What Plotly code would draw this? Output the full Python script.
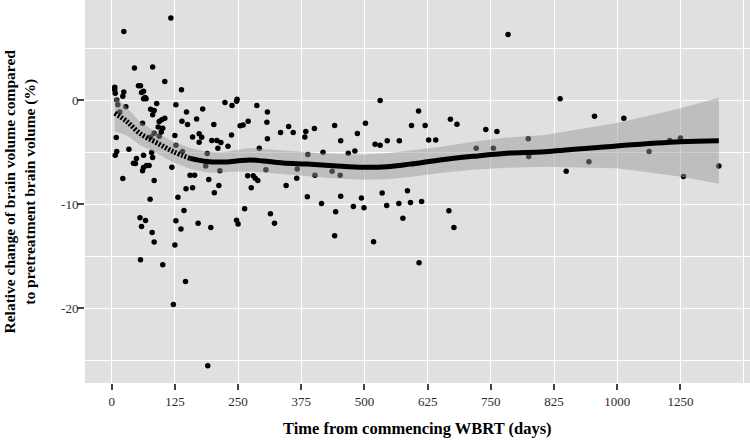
import plotly.graph_objects as go

# ---- data ----
days = [117, 24, 45, 81, 105, 138, 6, 6, 7, 24, 22, 53, 57, 63, 59, 66, 63, 68, 10, 89,
        127, 28, 77, 84, 81, 148, 139, 150, 168, 105, 99, 94, 61, 92, 101, 98, 94, 125, 84, 77,
        160, 173, 173, 178, 127, 9, 34, 10, 7, 49, 63, 79, 81, 43, 47, 69, 74, 63, 61, 119,
        22, 84, 155, 164, 147, 160, 76, 131, 143, 56, 67, 59, 127, 171, 137, 80, 84, 125, 57, 101,
        146, 122, 190, 12, 16, 140,
        224, 248, 247, 238, 180, 202, 287, 308, 270, 254, 260, 307, 237, 308, 334, 350, 359, 384, 382, 198,
        208, 216, 210, 230, 189, 186, 214, 292, 305, 367, 388, 192, 212, 203, 269, 280, 284, 289, 276, 345,
        366, 387, 263, 247, 250, 314, 322, 196,
        401, 418, 441, 453, 468, 481, 486, 502, 531, 521, 531, 545, 569, 593, 607, 620, 627, 641, 670, 683,
        740, 762, 721, 755, 824, 825, 436, 402, 452, 415, 453, 443, 441, 478, 494, 499, 535, 544, 518, 585,
        568, 591, 613, 576, 608, 667, 677, 784, 887, 955, 1013, 1125, 1104, 1063, 944, 899, 1131, 1201]
change = [7.9, 6.6, 3.1, 3.2, 1.8, 1.0, 1.25, 1.0, 0.67, 0.8, 0.38, 1.38, 1.38, 0.87, 0.73, 0.25, 0.13, 0.15, 0.03, -0.33,
          -0.45, -0.62, -0.87, -1.0, -1.41, -1.13, -2.02, -2.35, -1.8, -1.73, -1.89, -2.06, -2.21, -2.57, -2.71, -3.05, -3.48, -3.4, -3.17, -3.53,
          -3.53, -3.24, -4.04, -3.56, -4.33, -3.6, -4.71, -4.94, -5.29, -5.62, -5.29, -5.04, -5.52, -6.06, -6.1, -6.29, -6.29, -6.48, -6.8, -6.44,
          -7.54, -7.73, -7.21, -7.21, -8.53, -8.43, -9.52, -9.33, -10.62, -11.32, -11.58, -12.15, -11.61, -11.83, -12.4, -12.73, -13.65, -13.94, -15.36, -15.84,
          -17.44, -19.65, -25.55, -0.45, -1.13, -4.94,
          -0.23, 0.1, -0.1, -0.52, -0.84, -2.33, -0.52, -1.13, -2.02, -2.47, -2.38, -2.12, -3.34, -3.72, -3.12, -2.54, -3.12, -3.02, -3.53, -3.88,
          -3.88, -4.08, -4.62, -4.42, -5.13, -6.32, -6.8, -4.62, -6.7, -6.61, -5.23, -7.62, -8.21, -8.91, -7.28, -7.28, -7.5, -7.73, -8.43, -8.21,
          -7.5, -9.3, -10.45, -11.54, -11.92, -10.93, -11.83, -12.25,
          -2.73, -5.0, -2.44, -3.91, -5.1, -4.9, -3.21, -2.21, -0.04, -4.23, -4.33, -3.91, -3.91, -2.44, -1.03, -2.44, -3.82, -3.82, -1.83, -2.31,
          -2.83, -3.02, -4.62, -4.62, -3.72, -5.42, -6.83, -7.21, -7.21, -9.94, -9.23, -10.74, -13.05, -10.23, -9.42, -10.36, -8.94, -10.13, -13.63, -8.72,
          -9.94, -9.85, -9.75, -11.35, -15.64, -10.64, -12.25, 6.31, 0.15, -1.54, -1.73, -3.63, -3.88, -4.94, -5.93, -6.83, -7.35, -6.32]

smooth_x = [6, 30, 56, 89, 122, 155, 188, 221, 247, 274, 300, 339, 386, 438, 498, 544, 590, 649, 715, 781, 857, 999, 1124, 1201]
smooth_y = [-1.25, -2.05, -3.2, -4.1, -4.95, -5.6, -5.9, -5.95, -5.85, -5.75, -5.85, -6.05, -6.15, -6.3, -6.45, -6.4, -6.15, -5.75, -5.4, -5.1, -4.95, -4.4, -4.0, -3.9]
ci_upper = [0.4, -0.7, -2.1, -3.1, -4.0, -4.6, -4.95, -5.0, -4.8, -4.6, -4.7, -4.85, -5.0, -5.15, -5.25, -5.1, -4.85, -4.5, -4.0, -3.6, -3.35, -2.2, -0.8, 0.25]
ci_lower = [-3.0, -3.4, -4.3, -5.1, -6.0, -6.6, -6.95, -6.95, -6.85, -6.85, -6.9, -7.1, -7.3, -7.5, -7.65, -7.6, -7.4, -7.0, -6.7, -6.5, -6.4, -6.55, -7.35, -8.05]
hatched_until = 155  # the early part of the fitted line looks hatched

x_tick_vals = [0, 125, 250, 375, 500, 625, 750, 875, 1000, 1125]
x_tick_text = ["0", "125", "250", "375", "500", "625", "750", "825", "1000", "1250"]
x_minor_vals = [1250]
y_tick_vals = [0, -10, -20]
y_tick_text = ["0", "-10", "-20"]
y_minor_vals = [5, -5, -15, -25]

# ---- figure ----
fig = go.Figure()

fig.add_trace(go.Scatter(x=days, y=change, mode="markers",
                         marker=dict(color="black", size=5.5, line=dict(width=0)),
                         hoverinfo="skip", showlegend=False))

fig.add_trace(go.Scatter(x=smooth_x + smooth_x[::-1], y=ci_upper + ci_lower[::-1],
                         mode="lines", fill="toself", line=dict(width=0),
                         fillcolor="rgba(150,150,150,0.47)", hoverinfo="skip", showlegend=False))

k = smooth_x.index(hatched_until)
fig.add_trace(go.Scatter(x=smooth_x[:k + 1], y=smooth_y[:k + 1], mode="lines",
                         line=dict(color="black", width=5, dash="2px,1.6px", shape="spline"),
                         hoverinfo="skip", showlegend=False))
fig.add_trace(go.Scatter(x=smooth_x[k:], y=smooth_y[k:], mode="lines",
                         line=dict(color="black", width=5, shape="spline"),
                         hoverinfo="skip", showlegend=False))

font_family = "Liberation Serif"
tick_color = "#2b2b2b"
fig.update_layout(
    width=750, height=443,
    margin=dict(l=85, r=0, t=0, b=60, pad=0),
    paper_bgcolor="white", plot_bgcolor="#E0E0E1",
    font=dict(family=font_family, color=tick_color, size=13),
    showlegend=False,
)
fig.update_xaxes(
    range=[-52.8, 1262.6], tickmode="array", tickvals=x_tick_vals, ticktext=x_tick_text,
    showgrid=True, gridcolor="white", gridwidth=1.4, zeroline=False, showline=False,
    ticks="outside", ticklen=6, tickwidth=1.5, tickcolor="#444444", automargin=False,
    tickfont=dict(family=font_family, size=13, color=tick_color),
    minor=dict(tickvals=x_minor_vals, showgrid=True, gridcolor="white", gridwidth=0.8, ticks=""),
)
fig.update_yaxes(
    range=[-27.21, 9.64], tickmode="array", tickvals=y_tick_vals, ticktext=y_tick_text,
    showgrid=True, gridcolor="white", gridwidth=1.4, zeroline=False, showline=False,
    ticks="outside", ticklen=7, tickwidth=1.5, tickcolor="#444444", automargin=False,
    ticklabelstandoff=-4,
    tickfont=dict(family=font_family, size=13, color=tick_color),
    minor=dict(tickvals=y_minor_vals, showgrid=True, gridcolor="white", gridwidth=0.8, ticks=""),
)

fig.add_annotation(text="<b>Time from commencing WBRT (days)</b>", xref="paper", yref="paper",
                   x=0.5, y=0, xanchor="center", yanchor="middle", yshift=-45, showarrow=False,
                   font=dict(family=font_family, size=16.5, color="black"))
fig.add_annotation(text="<b>Relative change of brain volume compared<br>to pretreatment brain volume (%)</b>",
                   xref="paper", yref="paper", x=0, y=0.5, xanchor="center", yanchor="middle",
                   xshift=-66, textangle=-90, showarrow=False,
                   font=dict(family=font_family, size=15.5, color="black"))

fig.write_html("out.html", config={"displayModeBar": False},
               post_script="document.body.style.margin='0';")
